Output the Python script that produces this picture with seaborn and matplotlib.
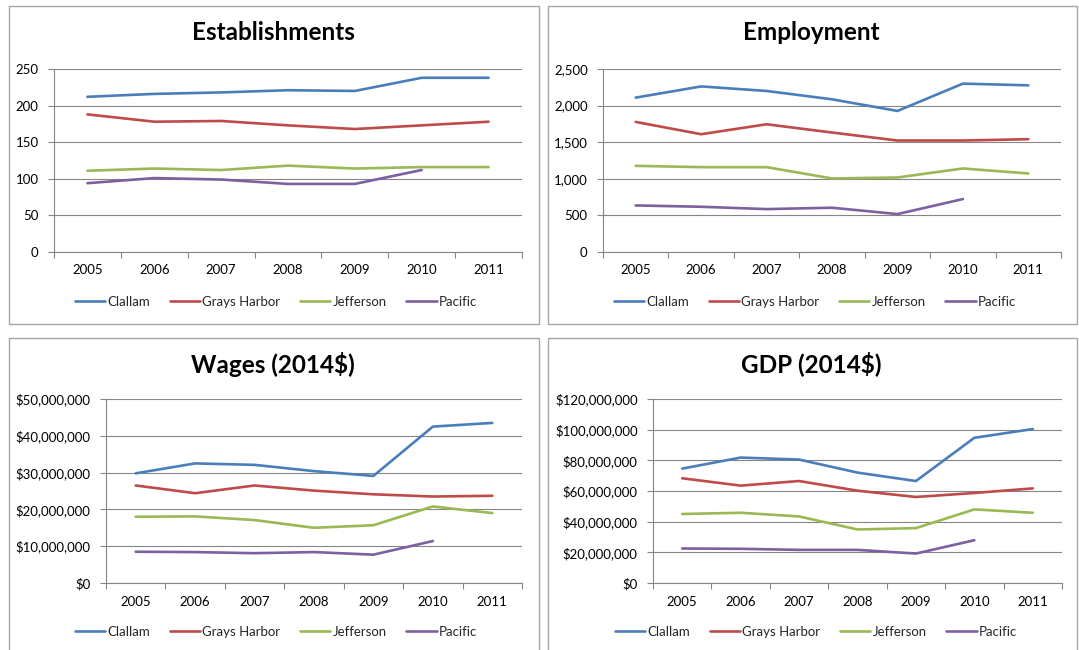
import matplotlib
matplotlib.use("Agg")
import matplotlib.pyplot as plt
import matplotlib.patches as mpatches
from matplotlib.ticker import FuncFormatter, FixedLocator
import numpy as np
import pandas as pd
import seaborn as sns

years = [2005, 2006, 2007, 2008, 2009, 2010, 2011]
counties = ["Clallam", "Grays Harbor", "Jefferson", "Pacific"]
nan = float("nan")

# Establishments
est_clallam = [212, 216, 218, 221, 220, 238, 238]
est_grays = [188, 178, 179, 173, 168, 173, 178]
est_jefferson = [111, 114, 112, 118, 114, 116, 116]
est_pacific = [94, 101, 99, 93, 93, 112, nan]

# Employment
emp_clallam = [2109, 2262, 2200, 2086, 1927, 2300, 2277]
emp_grays = [1777, 1609, 1745, 1632, 1523, 1523, 1541]
emp_jefferson = [1177, 1159, 1159, 1005, 1018, 1141, 1073]
emp_pacific = [636, 618, 586, 605, 518, 723, nan]

# Wages (2014$)
wag_clallam = [29.8e6, 32.5e6, 32.1e6, 30.4e6, 29.1e6, 42.5e6, 43.5e6]
wag_grays = [26.5e6, 24.4e6, 26.5e6, 25.1e6, 24.1e6, 23.5e6, 23.7e6]
wag_jefferson = [18.0e6, 18.1e6, 17.1e6, 15.0e6, 15.7e6, 20.8e6, 19.0e6]
wag_pacific = [8.5e6, 8.4e6, 8.1e6, 8.4e6, 7.7e6, 11.4e6, nan]

# GDP (2014$)
gdp_clallam = [74.6e6, 81.8e6, 80.5e6, 72.0e6, 66.5e6, 94.7e6, 100.4e6]
gdp_grays = [68.3e6, 63.5e6, 66.5e6, 60.2e6, 56.1e6, 58.7e6, 61.7e6]
gdp_jefferson = [45.0e6, 45.8e6, 43.4e6, 34.9e6, 35.8e6, 48.0e6, 45.8e6]
gdp_pacific = [22.5e6, 22.3e6, 21.6e6, 21.6e6, 19.2e6, 27.9e6, nan]

titles = ["Establishments", "Employment", "Wages (2014$)", "GDP (2014$)"]
y_ticks = [
    [0, 50, 100, 150, 200, 250],
    [0, 500, 1000, 1500, 2000, 2500],
    [0, 10e6, 20e6, 30e6, 40e6, 50e6],
    [0, 20e6, 40e6, 60e6, 80e6, 100e6, 120e6],
]
series = [
    [est_clallam, est_grays, est_jefferson, est_pacific],
    [emp_clallam, emp_grays, emp_jefferson, emp_pacific],
    [wag_clallam, wag_grays, wag_jefferson, wag_pacific],
    [gdp_clallam, gdp_grays, gdp_jefferson, gdp_pacific],
]
palette = {"Clallam": "#4A7EBB", "Grays Harbor": "#BE4B48",
           "Jefferson": "#98B954", "Pacific": "#7D60A0"}

sns.set_theme(style="white")
FONT = ["Lato", "DejaVu Sans"]
plt.rcParams["font.family"] = FONT

W, H = 1079, 650
fig = plt.figure(figsize=(W / 100, H / 100), dpi=100)
fig.patch.set_facecolor("white")

def fx(x):
    return x / W

def fy(y):
    return 1 - y / H

# (border box), (plot box), title center, legend center
layout = [
    ((9, 6, 539, 324), (54, 69, 522, 252), (273, 33), (276, 302)),
    ((548, 6, 1077, 324), (603, 69, 1061, 252), (811, 33), (815, 302)),
    ((9, 338, 539, 660), (106, 399, 522, 583), (273, 364), (276, 632)),
    ((548, 338, 1077, 660), (653, 399, 1062, 583), (811, 364), (816, 632)),
]

formatters = [
    FuncFormatter(lambda v, p: f"{int(v)}"),
    FuncFormatter(lambda v, p: f"{int(v):,}"),
    FuncFormatter(lambda v, p: f"${int(v):,}"),
    FuncFormatter(lambda v, p: f"${int(v):,}"),
]

grid_c = "#868686"

for i in range(4):
    (bx0, by0, bx1, by1), (px0, py0, px1, py1), (tx, ty), (lx, ly) = layout[i]
    rect = mpatches.Rectangle((fx(bx0), fy(by1)), fx(bx1) - fx(bx0), fy(by0) - fy(by1),
                              transform=fig.transFigure, fill=False,
                              edgecolor="#A6A6A6", linewidth=1.0, zorder=0)
    fig.patches.append(rect)

    ax = fig.add_axes([fx(px0), fy(py1), fx(px1) - fx(px0), fy(py0) - fy(py1)])
    rows = []
    for c, vals in zip(counties, series[i]):
        for yr, v in zip(years, vals):
            rows.append({"Year": yr, "Value": v, "County": c})
    df = pd.DataFrame(rows)
    sns.lineplot(data=df, x="Year", y="Value", hue="County", palette=palette,
                 hue_order=counties, linewidth=1.9, ax=ax)

    ax.set_xlim(2004.5, 2011.5)
    ax.set_ylim(y_ticks[i][0], y_ticks[i][-1])
    ax.yaxis.set_major_locator(FixedLocator(y_ticks[i]))
    ax.yaxis.set_major_formatter(formatters[i])
    ax.set_xticks(years)
    ax.set_xticklabels([str(y) for y in years])
    ax.set_xticks(np.arange(2004.5, 2012.0, 1.0), minor=True)
    ax.set_xlabel("")
    ax.set_ylabel("")
    ax.grid(axis="y", color=grid_c, linewidth=0.8)
    ax.set_axisbelow(True)
    for s in ["top", "right"]:
        ax.spines[s].set_visible(False)
    for s in ["left", "bottom"]:
        ax.spines[s].set_color(grid_c)
        ax.spines[s].set_linewidth(0.8)
    ax.tick_params(axis="x", which="major", length=0, pad=9, labelsize=9.5, colors="black")
    ax.tick_params(axis="x", which="minor", length=4, width=0.8, color=grid_c, direction="out", bottom=True)
    ax.tick_params(axis="y", which="major", length=4, width=0.8, color=grid_c, direction="out",
                   left=True, pad=7, labelsize=9.5, labelcolor="black")
    for lab in ax.get_xticklabels() + ax.get_yticklabels():
        lab.set_family(FONT)

    fig.text(fx(tx), fy(ty), titles[i], ha="center", va="center",
             fontsize=17.5, fontweight="bold", family=FONT, color="black")

    sns.move_legend(ax, "center", bbox_to_anchor=(fx(lx), fy(ly)),
                    bbox_transform=fig.transFigure, ncol=4, frameon=False,
                    title=None, fontsize=9.5, handlelength=2.3, handletextpad=0.15,
                    columnspacing=1.5, borderaxespad=0)

fig.savefig("out.png", dpi=100, facecolor="white")
